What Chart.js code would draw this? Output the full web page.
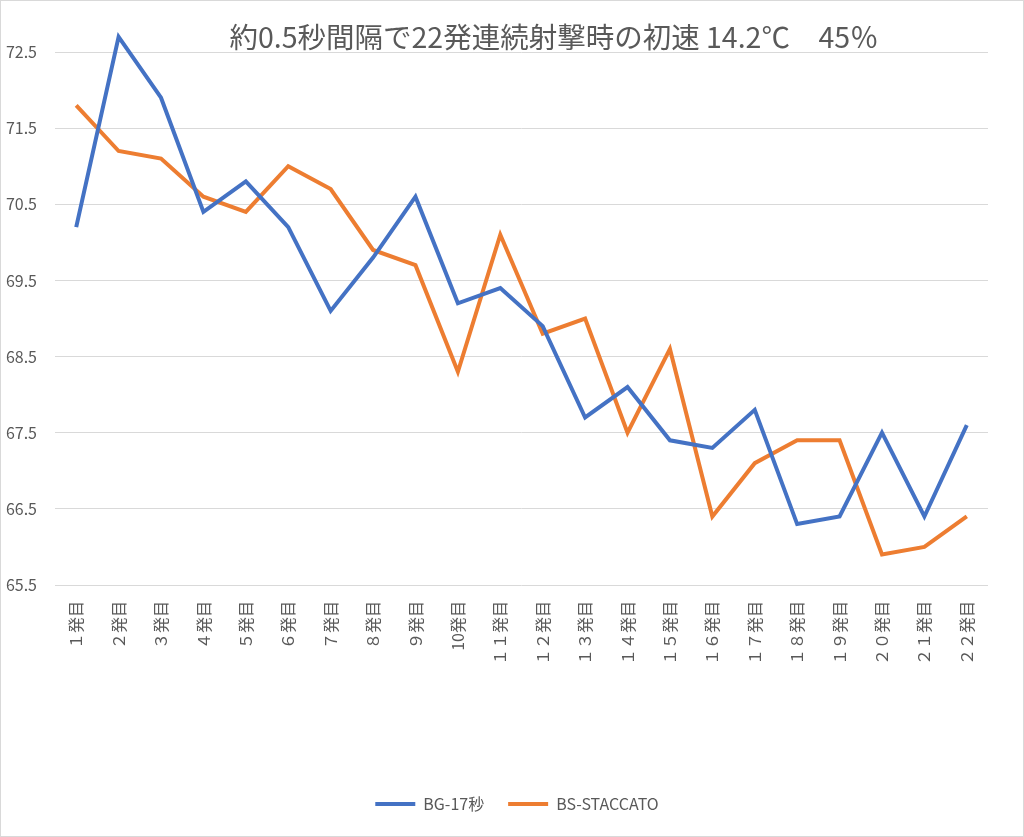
<!DOCTYPE html>
<html>
<head>
<meta charset="utf-8">
<script src="https://cdn.jsdelivr.net/npm/chart.js@4"></script>
<style>
  html, body { margin: 0; padding: 0; background: #fff; overflow: hidden; }
  canvas { display: block; }
</style>
</head>
<body>
<canvas id="shotChart" width="1024" height="837"></canvas>
<script>
const TITLE = '約0.5秒間隔で22発連続射撃時の初速 14.2℃　45％';

const shots = ['１発目', '２発目', '３発目', '４発目', '５発目', '６発目', '７発目', '８発目', '９発目', '10発目',
  '１１発目', '１２発目', '１３発目', '１４発目', '１５発目', '１６発目', '１７発目', '１８発目', '１９発目',
  '２０発目', '２１発目', '２２発目'];

const bg17 = [70.2, 72.7, 71.9, 70.4, 70.8, 70.2, 69.1, 69.8, 70.6, 69.2, 69.4,
  68.9, 67.7, 68.1, 67.4, 67.3, 67.8, 66.3, 66.4, 67.5, 66.4, 67.6];

const staccato = [71.8, 71.2, 71.1, 70.6, 70.4, 71.0, 70.7, 69.9, 69.7, 68.3, 70.1,
  68.8, 69.0, 67.5, 68.6, 66.4, 67.1, 67.4, 67.4, 65.9, 66.0, 66.4];

const yMin = 65.5;
const yMax = 72.5;
const yStep = 1;

const FONT = '"Noto Sans CJK JP", "Noto Sans", sans-serif';
const GREY = '#595959';

// title drawn by hand so it can sit right of centre like the original, plus the outer frame
const framePlugin = {
  id: 'frameAndTitle',
  afterLayout(chart) {
    // legend in the original is centred a bit right of the canvas middle
    chart.legend.left += 23;
    chart.legend.right += 23;
  },
  beforeDraw(chart) {
    const c = chart.ctx;
    c.save();
    c.fillStyle = '#fff';
    c.fillRect(0, 0, chart.width, chart.height);
    c.strokeStyle = '#d9d9d9';
    c.lineWidth = 1;
    c.strokeRect(0.5, 0.5, chart.width - 1, chart.height - 1);
    c.restore();
  },
  afterDraw(chart) {
    const c = chart.ctx;
    c.save();
    c.font = '28.5px ' + FONT;
    c.fillStyle = GREY;
    c.textAlign = 'center';
    c.textBaseline = 'middle';
    c.fillText(TITLE, 554, 37);
    c.restore();
  }
};

const ctx = document.getElementById('shotChart').getContext('2d');

new Chart(ctx, {
  type: 'line',
  data: {
    labels: shots,
    datasets: [{
      label: 'BG-17秒',
      data: bg17,
      borderColor: '#4472C4',
      backgroundColor: '#4472C4',
      borderWidth: 4,
      pointRadius: 0,
      tension: 0,
      clip: false
    }, {
      label: 'BS-STACCATO',
      data: staccato,
      borderColor: '#ED7D31',
      backgroundColor: '#ED7D31',
      borderWidth: 4,
      pointRadius: 0,
      tension: 0,
      clip: false
    }]
  },
  options: {
    responsive: false,
    animation: false,
    devicePixelRatio: 1,
    layout: { padding: { top: 52, right: 36, bottom: 15, left: 0 } },
    plugins: {
      title: { display: false },
      tooltip: { enabled: false },
      legend: {
        position: 'bottom',
        labels: {
          usePointStyle: true,
          pointStyle: 'line',
          pointStyleWidth: 40,
          boxHeight: 4,
          padding: 24,
          color: GREY,
          font: { family: FONT, size: 16 }
        }
      }
    },
    scales: {
      x: {
        offset: true,
        grid: { display: false },
        border: { display: false },
        ticks: {
          autoSkip: false,
          minRotation: 90,
          maxRotation: 90,
          padding: 8,
          color: GREY,
          font: { family: FONT, size: 16 }
        },
        afterFit(scale) { scale.height = 187; }
      },
      y: {
        min: yMin,
        max: yMax,
        grid: { color: '#d9d9d9', lineWidth: 1, drawTicks: false },
        border: { display: false },
        ticks: {
          stepSize: yStep,
          padding: 18,
          color: GREY,
          font: { family: FONT, size: 16 },
          callback: v => v.toFixed(1)
        },
        afterFit(scale) { scale.width = 55; }
      }
    }
  },
  plugins: [framePlugin]
});
</script>
</body>
</html>
